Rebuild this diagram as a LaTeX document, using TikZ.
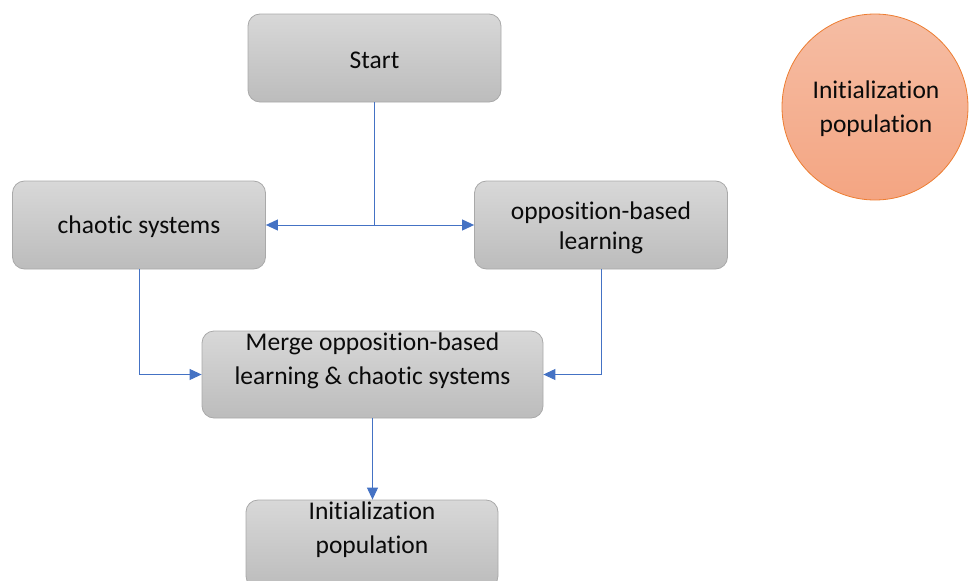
\documentclass[tikz,border=0pt]{standalone}
\usepackage{fontspec}
\setmainfont[Ligatures={NoCommon}]{Carlito}
\usetikzlibrary{arrows.meta}

\definecolor{boxtop}{HTML}{D8D8D8}
\definecolor{boxbot}{HTML}{BCBCBC}
\definecolor{boxedge}{HTML}{A9A9A9}
\definecolor{disktop}{HTML}{F5BDA4}
\definecolor{diskbot}{HTML}{F4A582}
\definecolor{diskedge}{HTML}{ED7D31}
\definecolor{link}{HTML}{4472C4}
\definecolor{ink}{HTML}{0A0A0A}

\tikzset{
  box/.style={rounded corners=12pt, draw=boxedge, line width=0.8pt,
    top color=boxtop, bottom color=boxbot, minimum width=253pt,
    minimum height=88pt, inner sep=0pt},
  txt/.style={text=ink, font=\fontsize{25.5pt}{34pt}\selectfont, align=center, inner sep=0pt},
  disk/.style={circle, draw=diskedge, line width=0.8pt, top color=disktop,
    bottom color=diskbot, minimum size=186pt, inner sep=0pt},
  wire/.style={draw=link, line width=1pt},
  arrow/.style={wire, -{Triangle[length=12pt,width=11pt]}}
}

\begin{document}
\begin{tikzpicture}[x=1pt,y=-1pt]
\useasboundingbox (0,0) rectangle (972,581);
\clip (0,0) rectangle (972,581);

% process boxes
\node[box] (start) at (374.5,58) {};
\node[txt] (starttext) at (374.5,60) {Start};

\node[box] (chaos) at (139,225) {};
\node[txt] (chaostext) at (139,227) {chaotic systems};

\node[box] (opp) at (601,225) {};
\node[txt, font=\fontsize{25.5pt}{30pt}\selectfont] (opptext) at (601,228) {opposition-based\\learning};

\node[box, minimum width=341pt, minimum height=87pt] (merge) at (372.5,374.5) {};
\node[txt] (mergetext) at (372.5,361) {Merge opposition-based\\learning \& chaotic systems};

\node[box, minimum width=252pt] (init) at (372,544) {};
\node[txt] (inittext) at (372,530) {Initialization\\population};

% legend disk
\node[disk] (legend) at (875,107) {};
\node[txt] (legendtext) at (876,109) {Initialization\\population};

% connectors
\coordinate (split) at (start.south |- chaos.east);
\draw[wire] (start.south) -- (split);
\draw[arrow] (split) -- (chaos.east);
\draw[arrow] (split) -- (opp.west);
\draw[arrow] (chaos.south) |- (merge.west);
\draw[arrow] (opp.south) |- (merge.east);
\draw[arrow] (merge.south) -- (merge.south |- init.north);
\end{tikzpicture}
\end{document}
